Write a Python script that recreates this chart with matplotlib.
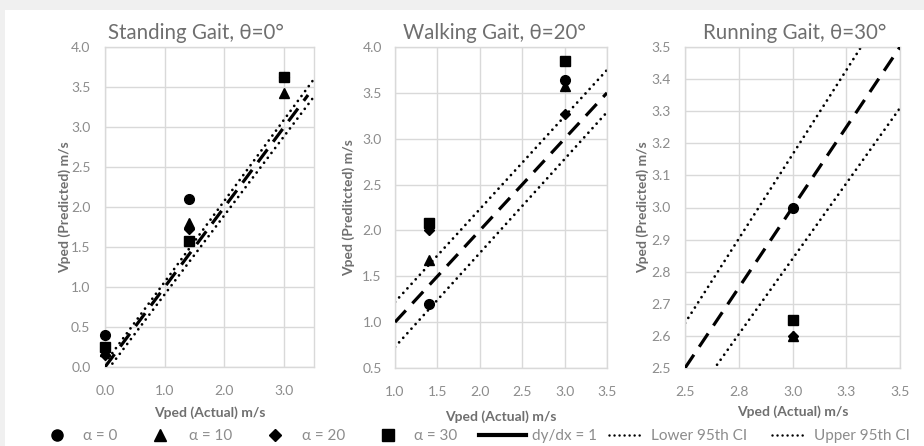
import matplotlib
matplotlib.use("Agg")
import matplotlib.pyplot as plt
from matplotlib.lines import Line2D
from matplotlib.patches import Rectangle
from matplotlib.ticker import FuncFormatter
from decimal import Decimal, ROUND_HALF_UP

plt.rcParams['font.family'] = ['Lato', 'DejaVu Sans']

# ---------------- data ----------------
titles = ["Standing Gait, θ=0°", "Walking Gait, θ=20°", "Running Gait, θ=30°"]
ylabels = ["Vped (Predicted) m/s", "Vped (Preditcted) m/s", "Vped (Predicted) m/s"]
xlabel = "Vped (Actual) m/s"

# actual speeds per panel
x_stand = [0.0, 1.4, 3.0]
x_walk = [1.4, 3.0]
x_run = [3.0]

# predicted speeds per alpha
stand_a0 = [0.40, 2.10, 3.63]
stand_a10 = [0.20, 1.80, 3.42]
stand_a20 = [0.15, 1.72, 3.62]
stand_a30 = [0.25, 1.58, 3.62]

walk_a0 = [1.20, 3.64]
walk_a10 = [1.68, 3.57]
walk_a20 = [2.00, 3.27]
walk_a30 = [2.08, 3.85]

run_a0 = [3.00]
run_a10 = [2.60]
run_a20 = [2.60]
run_a30 = [2.65]

# reference line dy/dx = 1 and 95% CI endpoints per panel
ref_x = [[0.0, 3.4], [1.0, 3.5], [2.5, 3.5]]
ref_y = [[0.0, 3.4], [1.0, 3.5], [2.5, 3.5]]
ci_x = [[0.0, 3.5], [1.0, 3.5], [2.5, 3.5]]
ci_lower = [[-0.08, 3.38], [0.73, 3.29], [2.37, 3.31]]
ci_upper = [[0.05, 3.60], [1.22, 3.75], [2.64, 3.69]]

xlims = [(0.0, 3.5), (1.0, 3.5), (2.5, 3.5)]
ylims = [(0.0, 4.0), (0.5, 4.0), (2.5, 3.5)]
xticks = [[0.0, 1.0, 2.0, 3.0], [1.0, 1.5, 2.0, 2.5, 3.0, 3.5], [2.5, 2.75, 3.0, 3.25, 3.5]]
yticks = [[0.0, 0.5, 1.0, 1.5, 2.0, 2.5, 3.0, 3.5, 4.0],
          [0.5, 1.0, 1.5, 2.0, 2.5, 3.0, 3.5, 4.0],
          [2.5, 2.6, 2.7, 2.8, 2.9, 3.0, 3.1, 3.2, 3.3, 3.4, 3.5]]

legend_labels = ["α = 0", "α = 10", "α = 20", "α = 30", "dy/dx = 1", "Lower 95th CI", "Upper 95th CI"]

panels = [
    (x_stand, [stand_a0, stand_a10, stand_a20, stand_a30]),
    (x_walk, [walk_a0, walk_a10, walk_a20, walk_a30]),
    (x_run, [run_a0, run_a10, run_a20, run_a30]),
]

# ---------------- styling ----------------
markers = ['o', '^', 'D', 's']
msizes = [7, 7, 5, 7]
grid_c = '#d9d9d9'
tick_c = '#8c8c8c'
label_c = '#6f6f6f'
title_c = '#6f6f6f'
dot_lw = 2.0
dot_style = (0, (0.01, 2.2))
dash_style = (0, (5, 3))

title_x = [0.435, 0.47, 0.51]
xtick_pad = [13, 13, 13]
xlabel_pad = [7, 9, 5]
ytick_pad = [10.5, 9.5, 10.5]
ylabel_pad = [0, 5.5, 1.5]


def fmt1(v, pos=None):
    s = "%.6f" % float(v)
    return str(Decimal(s).quantize(Decimal('0.1'), rounding=ROUND_HALF_UP))


fig = plt.figure(figsize=(9.24, 4.46), dpi=100)
fig.patch.set_facecolor('#f0f0f0')
fig.patches.append(Rectangle((5 / 924, 0), 1 - 5 / 924, 1 - 10 / 446,
                             transform=fig.transFigure, facecolor='white',
                             edgecolor='none', zorder=-10))

positions = [
    (105 / 924, 1 - 367 / 446, 209 / 924, 320 / 446),
    (395 / 924, 1 - 368 / 446, 212 / 924, 321 / 446),
    (685 / 924, 1 - 368 / 446, 215 / 924, 321 / 446),
]

for i, (xs, series) in enumerate(panels):
    ax = fig.add_axes(positions[i])
    ax.set_facecolor('white')
    ax.set_xlim(*xlims[i])
    ax.set_ylim(*ylims[i])
    ax.set_xticks(xticks[i])
    ax.set_yticks(yticks[i])
    ax.xaxis.set_major_formatter(FuncFormatter(fmt1))
    ax.yaxis.set_major_formatter(FuncFormatter(fmt1))
    ax.grid(True, color=grid_c, linewidth=1.0, zorder=0)
    ax.set_axisbelow(True)
    for s in ax.spines.values():
        s.set_color(grid_c)
        s.set_linewidth(1.0)
    ax.tick_params(axis='x', length=0, labelsize=10, labelcolor=tick_c, pad=xtick_pad[i])
    ax.tick_params(axis='y', length=0, labelsize=10, labelcolor=tick_c, pad=ytick_pad[i])

    ax.plot(ci_x[i], ci_lower[i], color='black', linestyle=dot_style,
            linewidth=dot_lw, dash_capstyle='round', zorder=2)
    ax.plot(ci_x[i], ci_upper[i], color='black', linestyle=dot_style,
            linewidth=dot_lw, dash_capstyle='round', zorder=2)
    ax.plot(ref_x[i], ref_y[i], color='black', linestyle=dash_style,
            linewidth=2.3, zorder=3)

    for m, ms, ys in zip(markers, msizes, series):
        ax.plot(xs, ys, linestyle='none', marker=m, markersize=ms,
                color='black', zorder=4, clip_on=False)

    ax.set_title(titles[i], fontsize=14.8, color=title_c, pad=6, x=title_x[i])
    ax.set_xlabel(xlabel, fontsize=10, color=label_c, fontweight='bold', labelpad=xlabel_pad[i])
    ax.set_ylabel(ylabels[i], fontsize=10, color=label_c, fontweight='bold', labelpad=ylabel_pad[i])

# legend: one small legend per entry, placed along the bottom row
handles = [Line2D([], [], linestyle='none', marker=m, markersize=ms + 1, color='black')
           for m, ms in zip(markers, msizes)]
handles.append(Line2D([], [], color='black', linewidth=3.0))
handles.append(Line2D([], [], color='black', linestyle=(0, (0.01, 2.0)), linewidth=1.8,
                      dash_capstyle='round'))
handles.append(Line2D([], [], color='black', linestyle=(0, (0.01, 2.0)), linewidth=1.8,
                      dash_capstyle='round'))

leg_fs = 11
em = leg_fs * 100 / 72.0  # px per em
leg_x = [50, 153, 268, 381, 479, 609, 772]       # handle left edge (px)
leg_hl = [14, 14, 14, 14, 47, 33, 33]             # handle length (px)
leg_txt = [83, 189, 302, 414, 532, 651, 814]      # label left edge (px)
for h, lab, x0, hl, tx in zip(handles, legend_labels, leg_x, leg_hl, leg_txt):
    lg = fig.legend([h], [lab], loc='center left',
                    bbox_to_anchor=(x0 / 924, 1 - 436 / 446),
                    frameon=False, borderpad=0, borderaxespad=0,
                    handlelength=hl / em, handletextpad=(tx - x0 - hl) / em,
                    prop={'size': leg_fs})
    for t in lg.get_texts():
        t.set_color(tick_c)

fig.savefig('out.png', dpi=100, facecolor=fig.get_facecolor())
